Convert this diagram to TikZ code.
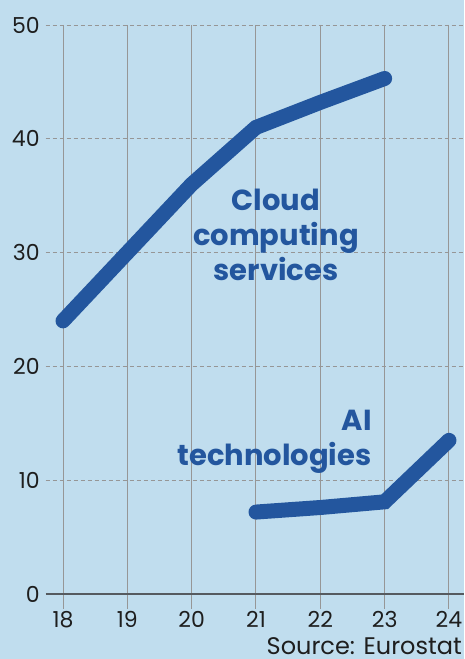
\documentclass[tikz,border=0pt]{standalone}
\usepackage{fontspec}
\setmainfont{Poppins}
\definecolor{bgblue}{RGB}{192,221,238}
\definecolor{lineblue}{RGB}{35,86,158}
\definecolor{gridgray}{RGB}{150,150,150}
\definecolor{axisgray}{RGB}{85,90,95}
\definecolor{textgray}{RGB}{30,30,30}
\tikzset{gridline/.style={gridgray,line width=1pt},
  hline/.style={gridgray,line width=0.9pt,dash pattern=on 4pt off 3pt},
  ticklabel/.style={textgray,font=\fontsize{22}{24}\selectfont,inner sep=0},
  series/.style={lineblue,line width=15pt,line cap=round,line join=miter},
  serieslabel/.style={lineblue,font=\fontsize{29}{35}\selectfont\bfseries,inner sep=0}}

\begin{document}
\begin{tikzpicture}[x=1pt,y=1pt]
 \fill[bgblue] (0,0) rectangle (464,659);
 \useasboundingbox (0,0) rectangle (464,659);
 \begin{scope}[shift={(63,65)},x=64.33pt,y=11.38pt]
 \foreach \v in {10,20,...,50}{
     \draw[hline] (-0.27,\v) -- (6.24,\v);
     \node[ticklabel,anchor=east] (y\v) at (-0.36,\v) {\v};
 }
 \foreach \x in {0,1,...,6}{
     \draw[gridline] (\x,50) -- (\x,-1.3);
 }
 \draw[axisgray,line width=1.5pt] (-0.27,0) -- (6.24,0);
 \node[ticklabel,anchor=east] (y0) at (-0.36,0) {0};
 \foreach \x [evaluate=\x as \yr using int(18+\x)] in {0,1,...,6}{
     \node[ticklabel,anchor=north] (x\yr) at (\x,-1.5) {\yr};
 }
 % cloud computing
 \coordinate (c18) at (0,24);
 \coordinate (c19) at (1,30);
 \coordinate (c20) at (2,36);
 \coordinate (c21) at (3,41);
 \coordinate (c22) at (4,43.2);
 \coordinate (c23) at (5,45.3);
 \draw[series] (c18) -- (c19) -- (c20) -- (c21) -- (c22) -- (c23);
 % AI
 \coordinate (a21) at (3,7.2);
 \coordinate (a22) at (4,7.6);
 \coordinate (a23) at (5,8.1);
 \coordinate (a24) at (6,13.5);
 \draw[series] (a21) -- (a22) -- (a23) -- (a24);
 \node[serieslabel,align=center] (cloud) at (3.31,31.6) {Cloud\\computing\\services};
 \node[serieslabel,align=right,anchor=east] (ai) at (4.8,13.4) {AI\\technologies};
 \end{scope}
 \node[textgray,font=\fontsize{24}{26}\selectfont,anchor=base east,inner sep=0] (src) at (462,5) {Source: Eurostat};
\end{tikzpicture}
\end{document}
